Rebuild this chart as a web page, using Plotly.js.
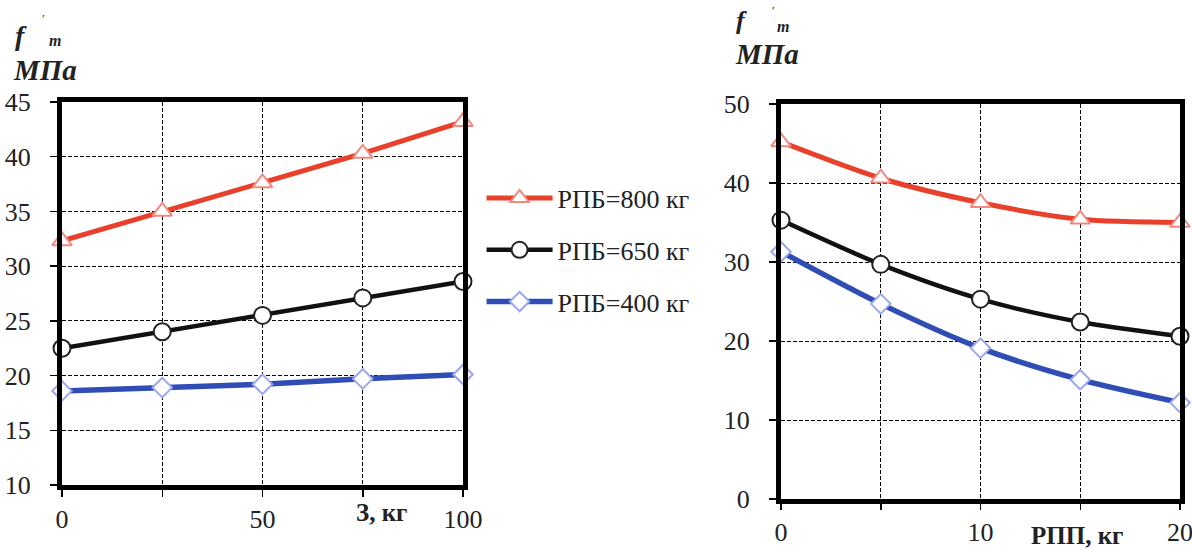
<!DOCTYPE html>
<html><head><meta charset="utf-8">
<script src="https://cdn.plot.ly/plotly-3.0.1.min.js"></script>
<style>html,body{margin:0;padding:0;background:#fff}#chart{width:1192px;height:549px}</style>
</head><body><div id="chart"></div>
<script>
// Left chart: З, кг
const xLeft = [0, 25, 50, 75, 100];
const leftRed = [32.3, 35.0, 37.6, 40.3, 43.2];
const leftBlack = [22.5, 24.0, 25.5, 27.1, 28.6];
const leftBlue = [18.6, 18.9, 19.2, 19.7, 20.1];
// Right chart: РПП, кг
const xRight = [0, 5, 10, 15, 20];
const rightRed = [45.2, 40.6, 37.5, 35.4, 35.0];
const rightBlack = [35.3, 29.7, 25.3, 22.4, 20.6];
const rightBlue = [31.3, 24.7, 19.1, 15.1, 12.2];
const seriesNames = ['РПБ=800 кг', 'РПБ=650 кг', 'РПБ=400 кг'];
const leftXTickVals = [0, 25, 50, 75, 100];
const leftXTickText = ['0', '', '50', '', '100'];
const rightXTickVals = [0, 5, 10, 15, 20];
const rightXTickText = ['0', '', '10', '', '20'];
const leftYTicks = [10, 15, 20, 25, 30, 35, 40, 45];
const rightYTicks = [0, 10, 20, 30, 40, 50];

const FONT = 'Liberation Serif';
const RED = '#e8402a', BLACK = '#111111', BLUE = '#2f4db5';
const styles = [
  {color: RED, width: 5, marker: {symbol: 'triangle-up', size: 17, color: '#fff', line: {color: '#f08a80', width: 2}}},
  {color: BLACK, width: 4.5, marker: {symbol: 'circle', size: 17, color: '#fff', line: {color: '#222', width: 2}}},
  {color: BLUE, width: 5.5, marker: {symbol: 'diamond', size: 15, color: '#fff', line: {color: '#9aa6ee', width: 2}}}
];
const leftData = [leftRed, leftBlack, leftBlue];
const rightData = [rightRed, rightBlack, rightBlue];
const traces = [];
leftData.forEach((ys, i) => {
  traces.push({x: xLeft, y: ys, name: seriesNames[i], type: 'scatter', mode: 'lines+markers',
    xaxis: 'x', yaxis: 'y', cliponaxis: false, legendgroup: 'g' + i,
    line: {color: styles[i].color, width: styles[i].width}, marker: styles[i].marker});
});
rightData.forEach((ys, i) => {
  traces.push({x: xRight, y: ys, name: seriesNames[i], type: 'scatter', mode: 'lines+markers',
    xaxis: 'x2', yaxis: 'y2', cliponaxis: false, showlegend: false,
    line: {color: styles[i].color, width: styles[i].width, shape: 'spline', smoothing: 0.8}, marker: styles[i].marker});
});

const tickFont = {family: FONT, size: 26, color: '#222'};
const axisCommon = {showline: true, mirror: true, linecolor: '#000', linewidth: 5,
  showgrid: true, gridcolor: '#000', griddash: '4px,2px', gridwidth: 1, zeroline: false,
  ticks: 'outside', ticklen: 7, tickcolor: '#000', tickwidth: 1.5, tickfont: tickFont, fixedrange: true,
  ticklabeloverflow: 'allow'};

const ann = (x, y, text, size, anchor) => ({xref: 'paper', yref: 'paper', x: x / 1192, y: 1 - y / 549,
  xanchor: anchor || 'left', yanchor: 'top', showarrow: false, text: text, font: {family: FONT, size: size, color: '#222'}});

const layout = {
  width: 1192, height: 549,
  margin: {l: 0, r: 0, t: 0, b: 0},
  paper_bgcolor: '#fff', plot_bgcolor: '#fff',
  font: {family: FONT},
  showlegend: true,
  legend: {x: 0.404, y: 0.682, xanchor: 'left', yanchor: 'top', font: {family: FONT, size: 26, color: '#222'},
    tracegroupgap: 15, bgcolor: 'rgba(0,0,0,0)', itemwidth: 66},
  xaxis: Object.assign({}, axisCommon, {domain: [62/1192, 463/1192], range: [0, 100], tickvals: leftXTickVals, ticktext: leftXTickText, anchor: 'y', ticklabelstandoff: 0}),
  yaxis: Object.assign({}, axisCommon, {domain: [1 - 485/549, 1 - 102/549], range: [10, 45], tickvals: leftYTicks, anchor: 'x', ticklabelstandoff: 14}),
  xaxis2: Object.assign({}, axisCommon, {domain: [781/1192, 1180/1192], range: [0, 20], tickvals: rightXTickVals, ticktext: rightXTickText, anchor: 'y2', ticklabelstandoff: 0, ticklen: 6}),
  yaxis2: Object.assign({}, axisCommon, {domain: [1 - 499/549, 1 - 104/549], range: [0, 50], tickvals: rightYTicks, anchor: 'x2', ticklabelstandoff: 14}),
  annotations: [
    ann(13, 18, '<b><i>f</i></b>', 28),
    ann(40, 10, '<span style="font-size:12px">′</span>', 14),
    ann(47, 30, '<b><i>m</i></b>', 16),
    ann(11, 52, '<b><i>МПа</i></b>', 29),
    ann(734, 4, '<b><i>f</i></b>', 26),
    ann(770, 2, '<span style="font-size:12px">′</span>', 14),
    ann(775, 16, '<b><i>m</i></b>', 16),
    ann(733, 36, '<b><i>МПа</i></b>', 29),
    ann(381, 497, '<b>З, кг</b>', 25, 'center'),
    ann(1077, 520, '<b>РПП, кг</b>', 25, 'center')
  ]
};
Plotly.newPlot('chart', traces, layout, {displayModeBar: false, staticPlot: true});
</script></body></html>
